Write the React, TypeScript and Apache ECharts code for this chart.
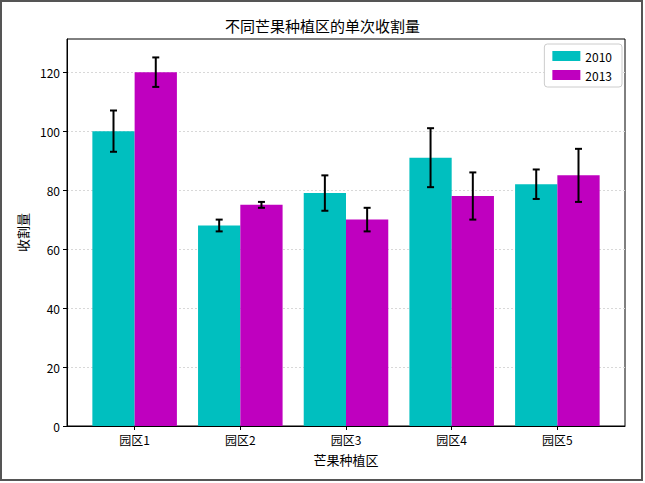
import React, { useEffect, useRef } from "react";
import * as echarts from "echarts";

const categories = ["园区1", "园区2", "园区3", "园区4", "园区5"];
const values2010 = [100, 68, 79, 91, 82];
const errors2010 = [7, 2, 6, 10, 5];
const values2013 = [120, 75, 70, 78, 85];
const errors2013 = [5, 1, 4, 8, 9];
const yTicks = [0, 20, 40, 60, 80, 100, 120];

const FONT = "'Noto Sans CJK SC', 'DejaVu Sans', sans-serif";

export default function App() {
  const ref = useRef<HTMLDivElement>(null);
  useEffect(() => {
    if (!ref.current) return;
    const chart = echarts.init(ref.current, undefined, { renderer: "svg" });
    const barItem = (offset: number) => (params: any, api: any) => {
      const i = api.value(0);
      const v = api.value(1);
      const p0 = api.coord([i + offset, v]);
      const p1 = api.coord([i + offset + 0.4, 0]);
      return {
        type: "rect",
        shape: { x: p0[0], y: p0[1], width: p1[0] - p0[0], height: p1[1] - p0[1] },
        style: { fill: api.visual("color") },
      };
    };
    const errItem = (offset: number) => (params: any, api: any) => {
      const i = api.value(0);
      const v = api.value(1);
      const e = api.value(2);
      const top = api.coord([i + offset, v + e]);
      const bot = api.coord([i + offset, v - e]);
      const x = top[0];
      const cap = 3.5;
      const st = { stroke: "#000", lineWidth: 2 };
      return {
        type: "group",
        children: [
          { type: "line", shape: { x1: x, y1: top[1], x2: x, y2: bot[1] }, style: st },
          { type: "line", shape: { x1: x - cap, y1: top[1], x2: x + cap, y2: top[1] }, style: st },
          { type: "line", shape: { x1: x - cap, y1: bot[1], x2: x + cap, y2: bot[1] }, style: st },
        ],
      };
    };
    const d2010 = values2010.map((v, i) => [i, v, errors2010[i]]);
    const d2013 = values2013.map((v, i) => [i, v, errors2013[i]]);
    chart.setOption({
      animation: false,
      textStyle: { fontFamily: FONT },
      title: {
        text: "不同芒果种植区的单次收割量",
        left: "center",
        top: 13,
        textStyle: { fontSize: 15, fontWeight: "normal", color: "#000", fontFamily: FONT },
      },
      legend: {
        right: 23,
        top: 44,
        orient: "vertical",
        itemWidth: 28,
        itemHeight: 10,
        itemGap: 7,
        padding: [6, 10, 6, 8],
        borderColor: "#ccc",
        borderWidth: 1,
        borderRadius: 3,
        backgroundColor: "#fff",
        icon: "rect",
        textStyle: { fontSize: 12, color: "#000", fontFamily: FONT },
        data: ["2010", "2013"],
      },
      grid: {
        left: 67,
        right: 20,
        top: 39,
        bottom: 57,
        show: true,
        borderColor: "#000",
        borderWidth: 1,
        backgroundColor: "transparent",
      },
      xAxis: {
        type: "value",
        min: -0.64,
        max: 4.64,
        name: "芒果种植区",
        nameLocation: "middle",
        nameGap: 27,
        nameTextStyle: { fontSize: 13, color: "#000", fontFamily: FONT },
        axisLine: { show: true, onZero: false, lineStyle: { color: "#000" } },
        axisTick: { show: true, customValues: [0, 1, 2, 3, 4], length: 4, lineStyle: { color: "#000" } },
        axisLabel: {
          customValues: [0, 1, 2, 3, 4],
          formatter: (v: number) => categories[Math.round(v)],
          fontSize: 12,
          color: "#000",
          margin: 7,
          fontFamily: FONT,
        },
        splitLine: { show: false },
      },
      yAxis: {
        type: "value",
        min: 0,
        max: 131.25,
        interval: 20,
        name: "收割量",
        nameLocation: "middle",
        nameGap: 38,
        nameRotate: 90,
        nameTextStyle: { fontSize: 13, color: "#000", fontFamily: FONT },
        axisLine: { show: true, onZero: false, lineStyle: { color: "#000" } },
        axisTick: { show: true, customValues: yTicks, length: 4, lineStyle: { color: "#000" } },
        axisLabel: { customValues: yTicks, fontSize: 12, color: "#000", margin: 7, fontFamily: FONT },
        splitLine: { show: true, lineStyle: { color: "#d8d8d8", type: [2, 2], width: 1 } },
      },
      series: [
        { type: "custom", name: "2010", color: "#00bfbf", renderItem: barItem(-0.4), data: d2010, encode: { x: 0, y: 1 }, z: 2 },
        { type: "custom", name: "2013", color: "#bf00bf", renderItem: barItem(0), data: d2013, encode: { x: 0, y: 1 }, z: 2 },
        { type: "custom", name: "err2010", renderItem: errItem(-0.2), data: d2010, encode: { x: 0, y: 1 }, z: 3 },
        { type: "custom", name: "err2013", renderItem: errItem(0.2), data: d2013, encode: { x: 0, y: 1 }, z: 3 },
      ],
      graphic: [
        {
          type: "rect",
          shape: { x: 1, y: 1, width: 641, height: 479 },
          style: { fill: "none", stroke: "#555", lineWidth: 2 },
          silent: true,
        },
      ],
    });
    return () => chart.dispose();
  }, []);
  return <div ref={ref} style={{ width: 645, height: 483, position: "absolute", left: 0, top: 0 }} />;
}
